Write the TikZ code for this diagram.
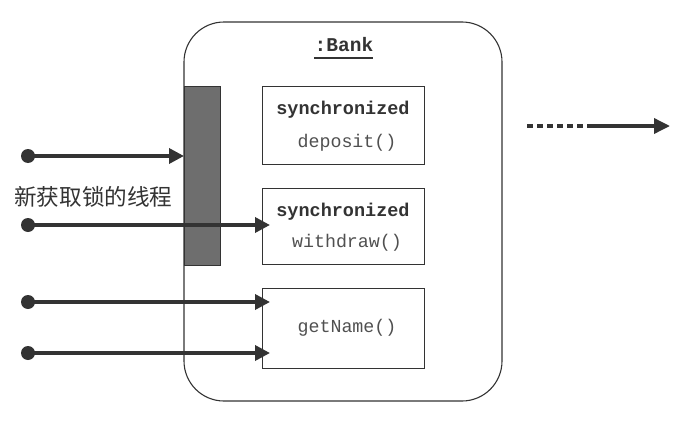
\documentclass[tikz,border=0pt]{standalone}
\usepackage{fontspec}
\setmonofont{Liberation Mono}
\newfontfamily\cjk{Noto Sans CJK SC}
\usetikzlibrary{arrows.meta}
\definecolor{bargray}{HTML}{6E6E6E}
\definecolor{inkc}{HTML}{333333}
\definecolor{lightink}{HTML}{505050}
\begin{document}
\begin{tikzpicture}[x=1pt,y=-1pt,
  methodbox/.style={draw=inkc,line width=1.1pt,minimum width=162pt,anchor=north west,inner sep=0pt},
  boldtxt/.style={font=\ttfamily\bfseries\fontsize{18.5}{22}\selectfont,inkc},
  plaintxt/.style={font=\ttfamily\fontsize{18.3}{22}\selectfont,lightink},
  thread/.style={draw=inkc,line width=3.5pt,-{Triangle[length=15pt,width=15pt]}},
  dotn/.style={circle,fill=inkc,inner sep=0pt,minimum size=14pt}]
\useasboundingbox (0,0) rectangle (680,423);
\draw[inkc,line width=1.1pt,rounded corners=40pt] (184,22) rectangle (502,401);
\node[font=\ttfamily\bfseries\fontsize{19.5}{22}\selectfont,inkc] (bank) at (344,45) {:Bank};
\draw[inkc,line width=1.2pt] (314,58) -- (373,58);
\node[draw=inkc,fill=bargray,line width=1pt,anchor=north west,minimum width=36pt,minimum height=179pt,inner sep=0pt] (bar) at (184,86) {};
\node[methodbox,minimum height=78pt] (dep) at (262,86) {};
\node[boldtxt] (s1) at (343,110) {synchronized};
\node[plaintxt] (m1) at (347,143) {deposit()};
\node[methodbox,minimum height=76pt] (wd) at (262,188) {};
\node[boldtxt] (s2) at (343,212) {synchronized};
\node[plaintxt] (m2) at (347,243) {withdraw()};
\node[methodbox,minimum height=80pt] (gn) at (262,288) {};
\node[plaintxt] (m3) at (347,328) {getName()};
\node[dotn] (d1) at (28,156) {};
\node[dotn] (d2) at (28,225) {};
\node[dotn] (d3) at (28,302) {};
\node[dotn] (d4) at (28,353) {};
\node[font=\cjk\fontsize{22.6}{26}\selectfont,inkc,anchor=west,inner sep=0pt] (lbl) at (14,197) {新获取锁的线程};
\draw[thread] (d1.center) -- (bar.west |- d1);
\draw[thread] (d2.center) -- (wd.west |- d2) -- +(8,0);
\draw[thread] (d3.center) -- (gn.west |- d3) -- +(8,0);
\draw[thread] (d4.center) -- (gn.west |- d4) -- +(8,0);
\coordinate (a0) at (527,126);
\coordinate (a1) at (587,126);
\coordinate (a2) at (670,126);
\draw[inkc,line width=3.5pt,dash pattern=on 6pt off 4pt] (a0) -- (a1);
\draw[inkc,line width=3.5pt,-{Triangle[length=16pt,width=15pt]}] (a1) -- (a2);
\end{tikzpicture}
\end{document}
